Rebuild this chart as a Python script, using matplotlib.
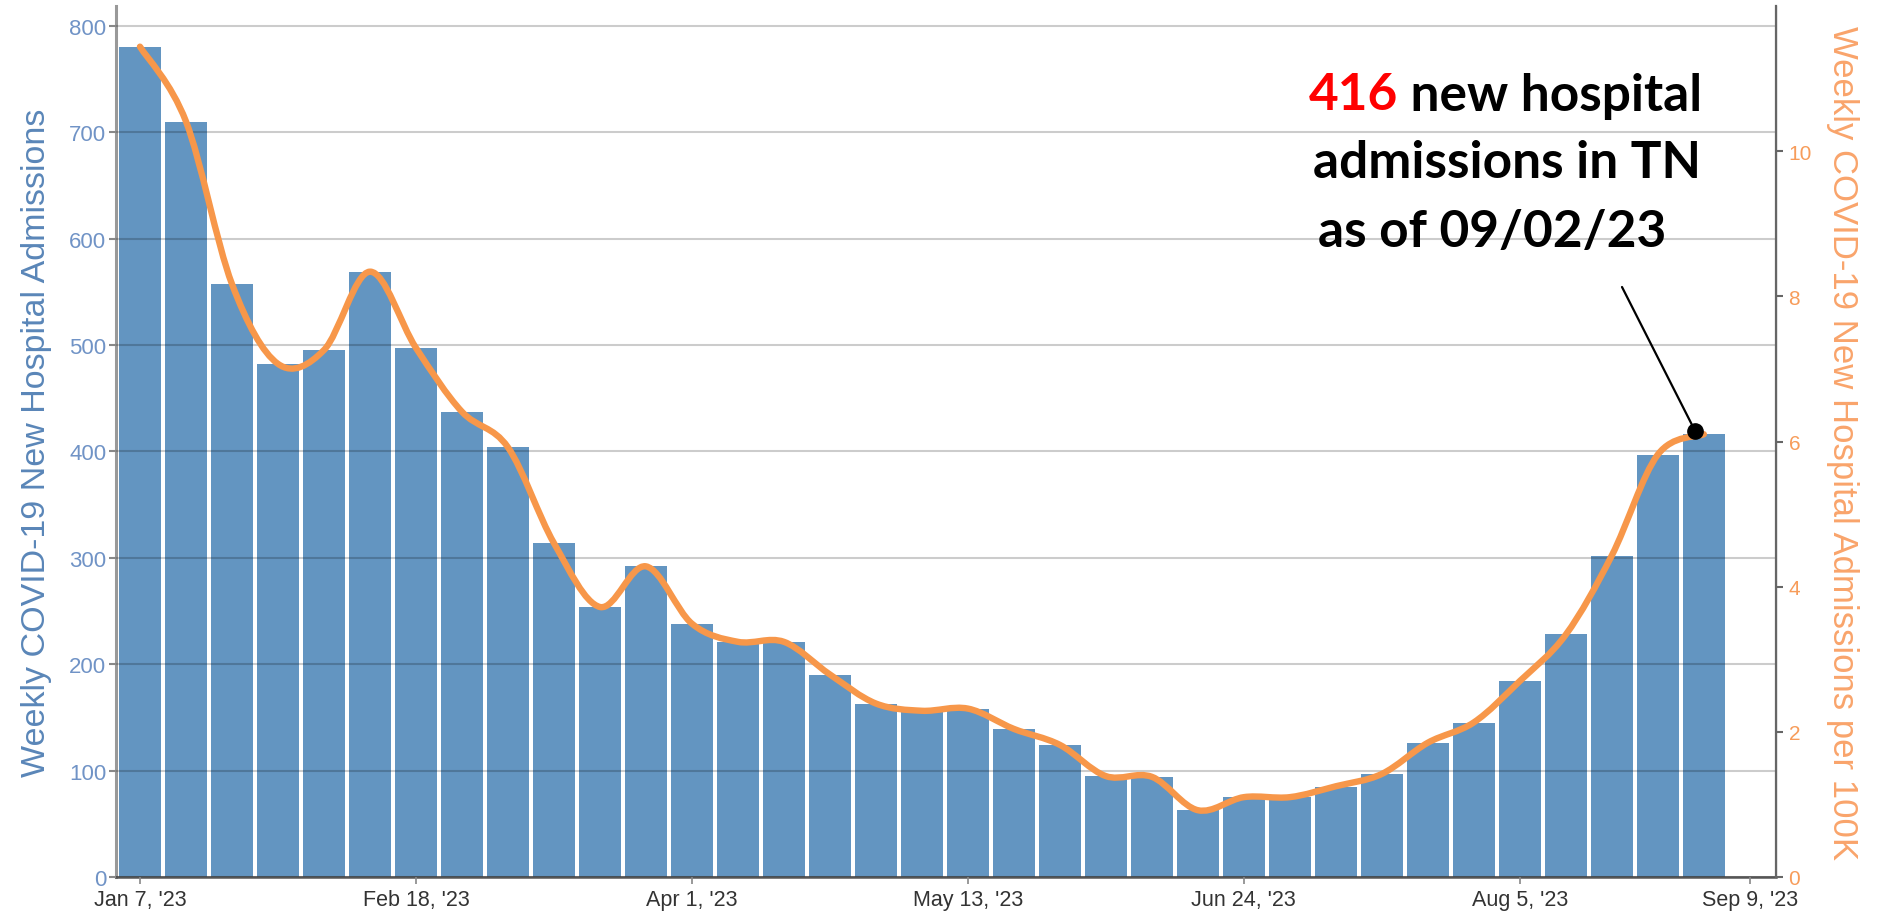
import matplotlib.pyplot as plt
import matplotlib.dates as mdates
from matplotlib.path import Path
from matplotlib.patches import PathPatch
import numpy as np
import pandas as pd

# weekly TN admissions, Jan 7 - Sep 2, 2023
week_start = '2023-01-07'
admissions = [780, 710, 557, 482, 495, 569, 497, 437, 404, 314, 254, 292,
              238, 221, 221, 190, 163, 156, 158, 139, 124, 95, 94, 63,
              75, 75, 85, 97, 126, 145, 184, 228, 302, 397, 416]
per_100k = [11.44, 10.41, 8.17, 7.07, 7.26, 8.34, 7.29, 6.41, 5.92, 4.60,
            3.72, 4.28, 3.49, 3.24, 3.24, 2.79, 2.39, 2.29, 2.32, 2.04,
            1.82, 1.39, 1.38, 0.92, 1.10, 1.10, 1.25, 1.42, 1.85, 2.13,
            2.70, 3.34, 4.43, 5.82, 6.10]
tick_dates = ['2023-01-07', '2023-02-18', '2023-04-01', '2023-05-13',
              '2023-06-24', '2023-08-05', '2023-09-09']
tick_labels = ["Jan 7, '23", "Feb 18, '23", "Apr 1, '23", "May 13, '23",
               "Jun 24, '23", "Aug 5, '23", "Sep 9, '23"]

bar_color = '#6395c1'
line_color = '#f7974a'
left_color = '#5a86b8'
right_color = '#f9a46b'

plt.rcParams['font.family'] = ['Liberation Sans', 'DejaVu Sans']

dates = pd.date_range(week_start, periods=len(admissions), freq='7D')
xd = mdates.date2num(dates)

fig = plt.figure(figsize=(18.81, 9.12), dpi=100)
ax = fig.add_axes([0.0617, 0.0373, 0.8825, 0.955])
ax2 = ax.twinx()

ax.bar(xd, admissions, width=7 * 0.9, color=bar_color, zorder=2)
ax.set_ylim(0, 818.6)
ax.set_yticks(np.arange(0, 801, 100))
ax.grid(axis='y', color='black', alpha=0.2, lw=1.5, zorder=2.5)
ax.set_axisbelow(False)
ax.set_xlim(xd[0] - 0.52 * 7, xd[0] + 35.57 * 7)
ax.set_xticks(mdates.date2num(pd.to_datetime(tick_dates)))
ax.set_xticklabels(tick_labels, fontsize=15.5, color='#333333')

ax.set_ylabel('Weekly COVID-19 New Hospital Admissions', fontsize=24.5,
              color=left_color, labelpad=12)
ax.tick_params(axis='y', labelsize=16, labelcolor='#7093c6', color='#888888',
               length=5, width=1.5, pad=2)
ax.tick_params(axis='x', color='#888888', length=5, width=1.2, pad=4)

for s in ['top']:
    ax.spines[s].set_visible(False)
    ax2.spines[s].set_visible(False)
ax.spines['left'].set_color('#999999')
ax.spines['left'].set_linewidth(2.2)
ax.spines['bottom'].set_color('#555555')
ax.spines['bottom'].set_linewidth(1.8)
ax2.spines['right'].set_color('#666666')
ax2.spines['right'].set_linewidth(1.6)
ax2.spines['left'].set_visible(False)
ax2.spines['bottom'].set_visible(False)

# smooth spline through the per-100K points (Catmull-Rom as Bezier segments)
pts = np.column_stack([xd, per_100k])
verts = [tuple(pts[0])]
codes = [Path.MOVETO]
for i in range(len(pts) - 1):
    p0 = pts[max(i - 1, 0)]
    p1 = pts[i]
    p2 = pts[i + 1]
    p3 = pts[min(i + 2, len(pts) - 1)]
    c1 = p1 + (p2 - p0) / 6.0
    c2 = p2 - (p3 - p1) / 6.0
    verts += [tuple(c1), tuple(c2), tuple(p2)]
    codes += [Path.CURVE4] * 3
curve = PathPatch(Path(verts, codes), facecolor='none', edgecolor=line_color,
                  lw=4.6, capstyle='round', joinstyle='round', zorder=3)
ax2.add_patch(curve)

ax2.set_ylim(0, 12)
ax2.set_yticks(np.arange(0, 11, 2))
ax2.tick_params(axis='y', labelsize=15, labelcolor='#f79c5a', color='#666666',
                length=5, width=1.5, pad=4)
ax2.set_ylabel('Weekly COVID-19 New Hospital Admissions per 100K',
               fontsize=25, color=right_color, rotation=-90, labelpad=34)

# callout
ax2.plot(xd[-1] - 1.3, per_100k[-1] + 0.04, 'o', color='black', ms=11, zorder=5)
ax2.annotate('', xy=(xd[-1] - 1.3, per_100k[-1] + 0.04),
             xytext=(1622 / 1881, 1 - 288 / 912), textcoords='figure fraction',
             arrowprops=dict(arrowstyle='-', color='black', lw=1.6,
                             shrinkA=0, shrinkB=0), zorder=5)

tfont = dict(family=['Lato', 'DejaVu Sans'], fontweight='bold', fontsize=37)
t1 = fig.text(1309 / 1881, 1 - 96 / 912, '416', color='#ff0000', va='center',
              ha='left', **tfont)
ax.annotate(' new hospital', xycoords=t1, xy=(1, 0.5), va='center', ha='left',
            color='black', **tfont)
fig.text(1507 / 1881, 1 - 164 / 912, 'admissions in TN', color='black',
         va='center', ha='center', **tfont)
fig.text(1492 / 1881, 1 - 232 / 912, 'as of 09/02/23', color='black',
         va='center', ha='center', **tfont)

fig.savefig('out.png', dpi=100)
